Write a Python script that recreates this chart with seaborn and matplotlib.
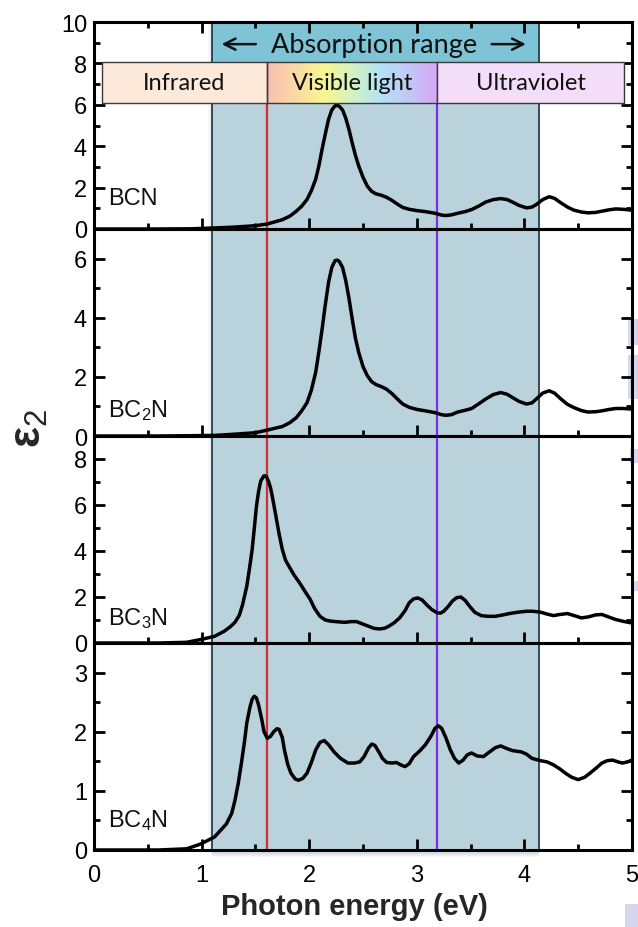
import numpy as np
import pandas as pd
import matplotlib
matplotlib.use("Agg")
import matplotlib.pyplot as plt
import seaborn as sns
from matplotlib.patches import Rectangle
from matplotlib.colors import LinearSegmentedColormap
from matplotlib.ticker import MultipleLocator

# ---- imaginary part of the dielectric function, eps2(E) ----
energy_bcn = [0, 0.6, 0.9, 1.12, 1.3, 1.5, 1.61, 1.75, 1.82, 1.88, 1.93, 1.98, 2.02, 2.06,
              2.09, 2.12, 2.15, 2.18, 2.21, 2.24, 2.26, 2.28, 2.31, 2.34, 2.37, 2.40, 2.43,
              2.46, 2.50, 2.54, 2.58, 2.62, 2.67, 2.72, 2.77, 2.82, 2.87, 2.93, 3.0, 3.08,
              3.17, 3.23, 3.27, 3.32, 3.38, 3.45, 3.51, 3.58, 3.64, 3.71, 3.78, 3.84, 3.89,
              3.95, 4.02, 4.07, 4.11, 4.17, 4.23, 4.28, 4.34, 4.40, 4.46, 4.53, 4.59, 4.66,
              4.72, 4.79, 4.85, 4.92, 5.0]
eps2_bcn = [0, 0, 0.01, 0.05, 0.09, 0.16, 0.24, 0.45, 0.62, 0.86, 1.10, 1.43, 1.85, 2.4,
            3.05, 3.86, 4.6, 5.3, 5.75, 5.95, 5.97, 5.93, 5.75, 5.35, 4.8, 4.15, 3.55,
            3.05, 2.5, 2.07, 1.82, 1.70, 1.63, 1.53, 1.38, 1.20, 1.04, 0.95, 0.89, 0.84,
            0.76, 0.67, 0.65, 0.68, 0.76, 0.84, 0.94, 1.12, 1.30, 1.42, 1.47, 1.42, 1.30,
            1.14, 1.02, 1.06, 1.18, 1.42, 1.56, 1.48, 1.26, 1.06, 0.91, 0.82, 0.78, 0.80,
            0.86, 0.93, 0.97, 0.95, 0.91]

energy_bc2n = [0, 0.6, 0.9, 1.12, 1.3, 1.5, 1.61, 1.75, 1.82, 1.88, 1.93, 1.98, 2.02, 2.06,
               2.09, 2.12, 2.15, 2.18, 2.21, 2.24, 2.26, 2.28, 2.31, 2.34, 2.37, 2.40, 2.43,
               2.46, 2.50, 2.54, 2.58, 2.62, 2.67, 2.72, 2.77, 2.82, 2.87, 2.93, 3.0, 3.08,
               3.17, 3.23, 3.27, 3.32, 3.38, 3.45, 3.51, 3.58, 3.64, 3.71, 3.78, 3.84, 3.89,
               3.95, 4.02, 4.07, 4.11, 4.17, 4.23, 4.28, 4.34, 4.40, 4.46, 4.53, 4.59, 4.66,
               4.72, 4.79, 4.85, 4.92, 5.0]
eps2_bc2n = [0, 0, 0.01, 0.02, 0.06, 0.11, 0.20, 0.32, 0.45, 0.62, 0.85, 1.13, 1.55, 2.15,
             2.85, 3.62, 4.45, 5.2, 5.7, 5.93, 5.95, 5.9, 5.7, 5.25, 4.65, 3.95, 3.3,
             2.83, 2.35, 2.04, 1.84, 1.74, 1.67, 1.58, 1.43, 1.25, 1.08, 0.97, 0.90, 0.85,
             0.79, 0.72, 0.70, 0.72, 0.81, 0.87, 0.93, 1.10, 1.25, 1.40, 1.47, 1.41, 1.30,
             1.17, 1.08, 1.12, 1.25, 1.45, 1.53, 1.45, 1.25, 1.07, 0.96, 0.86, 0.81, 0.82,
             0.85, 0.90, 0.93, 0.93, 0.91]

energy_bc3n = [0, 0.6, 0.86, 0.99, 1.12, 1.21, 1.27, 1.31, 1.35, 1.38, 1.42, 1.45, 1.47, 1.49,
               1.51, 1.53, 1.55, 1.58, 1.60, 1.62, 1.64, 1.66, 1.69, 1.72, 1.75, 1.78, 1.82,
               1.86, 1.91, 1.96, 2.01, 2.05, 2.10, 2.15, 2.20, 2.27, 2.33, 2.39, 2.44, 2.50,
               2.55, 2.60, 2.65, 2.70, 2.74, 2.79, 2.84, 2.89, 2.93, 2.97, 3.01, 3.05, 3.09,
               3.14, 3.19, 3.22, 3.25, 3.29, 3.33, 3.37, 3.41, 3.45, 3.49, 3.54, 3.60, 3.66,
               3.73, 3.80, 3.86, 3.94, 4.02, 4.08, 4.15, 4.21, 4.27, 4.33, 4.40, 4.47, 4.53,
               4.60, 4.66, 4.72, 4.79, 4.85, 4.92, 5.0]
eps2_bc3n = [0, 0, 0.03, 0.15, 0.29, 0.51, 0.72, 0.9, 1.2, 1.65, 2.47, 3.4, 4.07, 5.0,
             5.96, 6.6, 7.05, 7.27, 7.25, 7.05, 6.76, 6.3, 5.53, 4.75, 4.07, 3.6, 3.27,
             2.95, 2.62, 2.25, 1.89, 1.5, 1.16, 1.0, 0.95, 0.92, 0.90, 0.93, 0.93, 0.82,
             0.73, 0.64, 0.61, 0.64, 0.73, 0.88, 1.09, 1.4, 1.75, 1.92, 1.96, 1.87, 1.67,
             1.45, 1.31, 1.30, 1.38, 1.58, 1.82, 1.97, 2.0, 1.85, 1.6, 1.33, 1.19, 1.16,
             1.16, 1.22, 1.28, 1.34, 1.38, 1.38, 1.34, 1.26, 1.19, 1.24, 1.28, 1.18, 1.09,
             1.14, 1.22, 1.24, 1.12, 1.02, 0.94, 0.87]

energy_bc4n = [0, 0.6, 0.86, 0.99, 1.12, 1.23, 1.28, 1.31, 1.34, 1.37, 1.40, 1.42, 1.45, 1.47,
               1.49, 1.51, 1.53, 1.56, 1.58, 1.61, 1.64, 1.67, 1.70, 1.72, 1.75, 1.77, 1.80,
               1.83, 1.87, 1.90, 1.94, 1.98, 2.02, 2.06, 2.10, 2.14, 2.18, 2.23, 2.29, 2.36,
               2.42, 2.47, 2.51, 2.55, 2.58, 2.61, 2.65, 2.68, 2.72, 2.77, 2.81, 2.85, 2.89,
               2.93, 2.97, 3.03, 3.08, 3.13, 3.17, 3.20, 3.23, 3.27, 3.31, 3.35, 3.39, 3.43,
               3.47, 3.51, 3.56, 3.62, 3.67, 3.73, 3.78, 3.83, 3.89, 3.97, 4.02, 4.07, 4.15,
               4.21, 4.27, 4.33, 4.38, 4.44, 4.50, 4.56, 4.61, 4.67, 4.72, 4.77, 4.82, 4.87,
               4.91, 4.96, 5.0]
eps2_bc4n = [0, 0, 0.02, 0.1, 0.22, 0.44, 0.62, 0.84, 1.12, 1.47, 1.85, 2.15, 2.42, 2.55,
             2.60, 2.57, 2.45, 2.2, 2.0, 1.89, 1.92, 2.0, 2.05, 2.04, 1.9, 1.69, 1.45,
             1.30, 1.2, 1.18, 1.21, 1.30, 1.48, 1.69, 1.82, 1.85, 1.78, 1.66, 1.55, 1.47,
             1.47, 1.49, 1.58, 1.72, 1.79, 1.77, 1.65, 1.55, 1.48, 1.47, 1.48, 1.44, 1.41,
             1.46, 1.58, 1.68, 1.78, 1.92, 2.06, 2.10, 2.06, 1.90, 1.70, 1.55, 1.47, 1.52,
             1.61, 1.64, 1.59, 1.58, 1.65, 1.73, 1.76, 1.72, 1.68, 1.66, 1.62, 1.55, 1.51,
             1.49, 1.44, 1.37, 1.30, 1.23, 1.19, 1.23, 1.30, 1.39, 1.47, 1.51, 1.52, 1.49,
             1.47, 1.49, 1.52]

compounds = ["BCN", "BC$_2$N", "BC$_3$N", "BC$_4$N"]
energies = [energy_bcn, energy_bc2n, energy_bc3n, energy_bc4n]
spectra = [eps2_bcn, eps2_bc2n, eps2_bc3n, eps2_bc4n]
y_top = [10, 7, 9, 3.5]
y_major_step = [2, 2, 2, 1]
y_minor_step = [1, 1, 1, 0.5]

absorption_range = (1.1, 4.14)
visible_edges = (1.61, 3.19)
band_names = ["Infrared", "Visible light", "Ultraviolet"]
band_edges = [0.07, 1.61, 3.19, 4.93]

# ---- style ----
sns.set_theme(style="ticks")
plt.rcParams["font.family"] = ["Liberation Sans", "DejaVu Sans"]
plt.rcParams["mathtext.fontset"] = "custom"
plt.rcParams["mathtext.rm"] = "Liberation Sans"
plt.rcParams["mathtext.it"] = "Liberation Sans:italic"
plt.rcParams["mathtext.bf"] = "Liberation Sans:bold"

W, H = 638, 928
fig = plt.figure(figsize=(W / 100, H / 100), dpi=100)
axes = fig.subplots(4, 1, sharex=True, gridspec_kw=dict(hspace=0))
fig.subplots_adjust(left=94 / W, right=632 / W, top=1 - 23 / H, bottom=1 - 851 / H)

shade_color = "#b9d2dc"
edge_color = "#23404c"
band_box_bottom, band_box_top = 6.1, 8.05

for i, ax in enumerate(axes):
    ax.set_facecolor("none")
    # absorption window behind the spectra
    ax.axvspan(*absorption_range, facecolor=shade_color, edgecolor="none", zorder=0)
    for k in range(1, 4):
        ax.axvspan(absorption_range[0] - 0.012 * k, absorption_range[0],
                   facecolor="#9fb8c4", alpha=0.10, edgecolor="none", zorder=0)
    for xe in absorption_range:
        ax.axvline(xe, color=edge_color, lw=1.3, zorder=1)
    vmax = band_box_bottom / y_top[i] if i == 0 else 1
    ax.axvline(visible_edges[0], ymax=vmax, color="#d42a36", lw=1.6, zorder=2)
    ax.axvline(visible_edges[1], ymax=vmax, color="#7a2cf0", lw=1.6, zorder=2)

    df = pd.DataFrame({"E": energies[i], "eps2": spectra[i]})
    sns.lineplot(data=df, x="E", y="eps2", ax=ax, color="black", lw=2.5,
                 sort=False, estimator=None, zorder=4)
    ax.lines[-1].set_solid_joinstyle("round")
    ax.lines[-1].set_solid_capstyle("round")

    ax.set_xlim(0, 5)
    ax.set_ylim(0, y_top[i])
    ax.xaxis.set_major_locator(MultipleLocator(1))
    ax.xaxis.set_minor_locator(MultipleLocator(0.5))
    ax.yaxis.set_major_locator(MultipleLocator(y_major_step[i]))
    ax.yaxis.set_minor_locator(MultipleLocator(y_minor_step[i]))
    ax.tick_params(which="both", direction="in", width=2.0, color="black",
                   top=(i == 0), right=True, labelsize=17, labelcolor="black", pad=5)
    ax.tick_params(which="major", length=8)
    ax.tick_params(which="minor", length=4.5)
    for s in ax.spines.values():
        s.set_linewidth(2.2)
        s.set_color("black")
        s.set_zorder(6)
    ax.set_ylabel("")
    ax.set_xlabel("")
    ax.text(0.13, [1.21, 0.68, 0.84, 0.41][i], compounds[i], fontsize=17,
            va="baseline", ha="left", color="#111111", zorder=5)

# ---- header of the top panel ----
top = axes[0]
top.add_patch(Rectangle((absorption_range[0], 7.5), absorption_range[1] - absorption_range[0],
                        y_top[0] - 7.5, facecolor="#7fc4d6", edgecolor="none", zorder=0.5))
top.text(2.6, 8.93, "Absorption range", ha="center", va="center", fontsize=19.5,
         family=["Lato", "DejaVu Sans"], color="#111111", zorder=5)
arrow_kw = dict(arrowstyle="->", lw=1.8, color="#111111", mutation_scale=20)
top.annotate("", xy=(1.16, 8.93), xytext=(1.53, 8.93), arrowprops=arrow_kw, zorder=5)
top.annotate("", xy=(4.04, 8.93), xytext=(3.67, 8.93), arrowprops=arrow_kw, zorder=5)

band_fill = ["#fde9da", None, "#f3ddf8"]
spectrum_cmap = LinearSegmentedColormap.from_list(
    "vis", ["#f8bfb2", "#fbd9a6", "#f8f88e", "#d2f3c2", "#b3e2f7", "#c3c7f6", "#d8a6f7"])
for j, name in enumerate(band_names):
    x0, x1 = band_edges[j], band_edges[j + 1]
    if band_fill[j] is None:
        top.imshow(np.linspace(0, 1, 256)[None, :], cmap=spectrum_cmap, aspect="auto",
                   extent=(x0, x1, band_box_bottom, band_box_top), zorder=5,
                   interpolation="bilinear")
    top.add_patch(Rectangle((x0, band_box_bottom), x1 - x0, band_box_top - band_box_bottom,
                            facecolor=band_fill[j] if band_fill[j] else "none",
                            edgecolor="#3a3a3a", lw=1.0, zorder=5.5))
    top.text((x0 + x1) / 2, 7.07, name, ha="center", va="center", fontsize=17,
             family=["Lato", "DejaVu Sans"], color="#111111", zorder=6)
top.set_xlim(0, 5)
top.set_ylim(0, y_top[0])

# soft drop shadow under the absorption window
bottom_ax = axes[-1]
for k in range(6):
    bottom_ax.add_patch(Rectangle((absorption_range[0], -0.006 * (k + 1)),
                                  absorption_range[1] - absorption_range[0], 0.006 * (k + 1),
                                  transform=bottom_ax.get_xaxis_transform(),
                                  facecolor="#7d8a90", alpha=0.07, edgecolor="none",
                                  clip_on=False, zorder=0))

bottom_ax.tick_params(axis="x", pad=10)
bottom_ax.set_xlabel("Photon energy (eV)", fontsize=21, fontweight="bold")
bottom_ax.xaxis.set_label_coords(0.485, -0.205)

fig.text(30 / W, 1 - 428 / H, r"$\mathbf{\varepsilon}_{2}$", rotation=90, fontsize=32,
         ha="center", va="center")

# pale lavender fragments along the right edge of the page
for (px, py, pw, ph) in [(628, 320, 10, 26), (628, 356, 10, 44), (630, 450, 8, 14),
                         (631, 582, 7, 10), (625, 905, 13, 23)]:
    fig.patches.append(Rectangle((px / W, 1 - (py + ph) / H), pw / W, ph / H,
                                 transform=fig.transFigure, facecolor="#d8d6ec",
                                 edgecolor="none", zorder=-1))

fig.savefig("out.png", dpi=100, facecolor="white")
